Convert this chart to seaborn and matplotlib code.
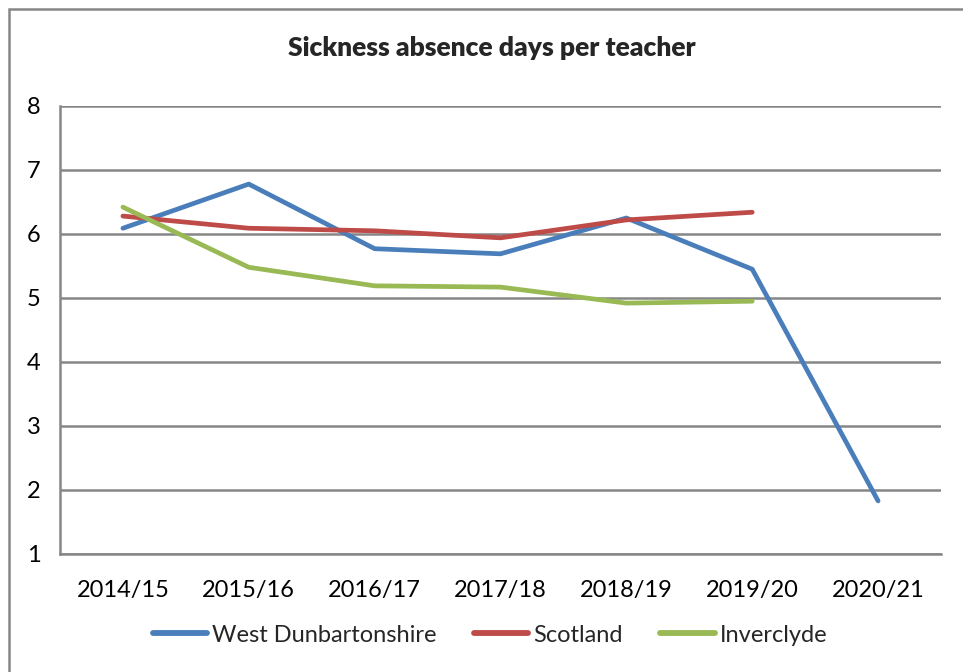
import matplotlib
matplotlib.use("Agg")
import matplotlib.pyplot as plt
import seaborn as sns
import pandas as pd
import numpy as np
from matplotlib.patches import Rectangle

years = ["2014/15", "2015/16", "2016/17", "2017/18", "2018/19", "2019/20", "2020/21"]
west_dunbartonshire = [6.09, 6.78, 5.77, 5.69, 6.25, 5.45, 1.83]
scotland = [6.28, 6.09, 6.05, 5.94, 6.22, 6.34, np.nan]
inverclyde = [6.42, 5.48, 5.19, 5.17, 4.92, 4.95, np.nan]
series_names = ["West Dunbartonshire", "Scotland", "Inverclyde"]
colors = ["#4A7EBB", "#BE4B48", "#98B954"]
yticks = [1, 2, 3, 4, 5, 6, 7, 8]

rows = []
for name, vals in zip(series_names, [west_dunbartonshire, scotland, inverclyde]):
    for i, (y, v) in enumerate(zip(years, vals)):
        if not np.isnan(v):
            rows.append({"year": y, "pos": i, "series": name, "value": v})
df = pd.DataFrame(rows)

sns.set_theme(style="white")
plt.rcParams['font.family'] = ['Lato', 'DejaVu Sans']

fig = plt.figure(figsize=(9.63, 6.72), dpi=100)
ax = fig.add_axes([60/963, 1-554/672, (941-60)/963, (554-106)/672])

sns.lineplot(data=df, x="pos", y="value", hue="series", hue_order=series_names,
             palette=colors, linewidth=3.4, ax=ax, sort=False, estimator=None,
             legend=True)
for ln in ax.lines:
    ln.set_solid_capstyle("round")
    ln.set_solid_joinstyle("round")

ax.set_xlim(-0.5, len(years) - 0.5)
ax.set_ylim(1, 8)
ax.set_yticks(yticks)
ax.set_yticklabels([str(t) for t in yticks])
ax.yaxis.grid(True, color="#868686", linewidth=1.8)
ax.set_axisbelow(True)
ax.set_xticks(range(len(years)))
ax.set_xticklabels(years)
ax.set_xticks(np.arange(-0.5, len(years)), minor=True)
ax.tick_params(axis="x", which="major", length=0, pad=19, labelsize=17, colors="black")
ax.tick_params(axis="x", which="minor", length=7, width=1.8, color="#868686", direction="out")
ax.tick_params(axis="y", which="major", length=7, width=1.8, color="#868686", direction="out",
               labelsize=17, pad=7, colors="black")
ax.tick_params(axis="both", labelcolor="black")
for s in ["top", "right"]:
    ax.spines[s].set_visible(False)
for s in ["left", "bottom"]:
    ax.spines[s].set_color("#868686")
    ax.spines[s].set_linewidth(1.8)
ax.set_xlabel("")
ax.set_ylabel("")

handles, labels = ax.get_legend_handles_labels()
ax.legend_.remove()
for h in handles:
    h.set_linewidth(4.2)
    h.set_solid_capstyle("round")
fig.legend(handles, labels, loc="center", bbox_to_anchor=(490/963, 1-635/672), ncol=3,
           frameon=False, fontsize=17, handlelength=2.3, handletextpad=0.2, columnspacing=1.6)

fig.text(492/963, 1-48/672, "Sickness absence days per teacher", ha="center", va="center",
         fontsize=19, fontweight="heavy")

fig.patches.append(Rectangle((9/963, -0.1), 1.2, 1 - 9/672 + 0.1, transform=fig.transFigure,
                             fill=False, edgecolor="#868686", linewidth=1.8))

fig.savefig("out.png", dpi=100)
